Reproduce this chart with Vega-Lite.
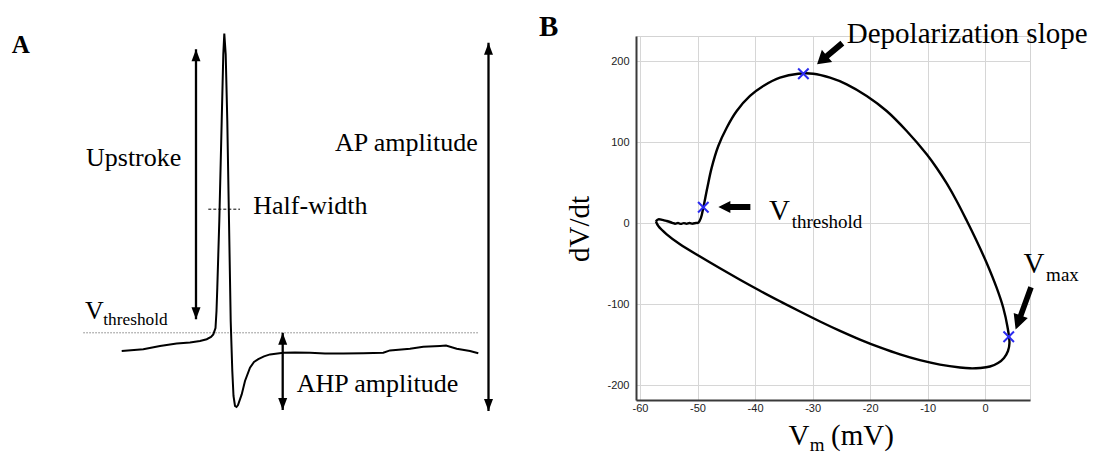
{
  "$schema": "https://vega.github.io/schema/vega-lite/v6.json",
  "padding": {"left": 0, "top": 12, "right": 0, "bottom": 0},
  "background": "white",
  "spacing": 116,
  "bounds": "flush",
  "config": {"view": {"stroke": null}},
  "datasets": {
    "traceA": [
      {"i": 0, "t": 12.17, "v": -48.75}, {"i": 1, "t": 14.33, "v": -48.33}, {"i": 2, "t": 16.0, "v": -47.5},
      {"i": 3, "t": 17.67, "v": -46.9}, {"i": 4, "t": 19.0, "v": -46.6}, {"i": 5, "t": 20.0, "v": -46.25},
      {"i": 6, "t": 20.67, "v": -45.8}, {"i": 7, "t": 21.1, "v": -45.25}, {"i": 8, "t": 21.33, "v": -44.6},
      {"i": 9, "t": 21.55, "v": -43.0}, {"i": 10, "t": 21.65, "v": -38.75}, {"i": 11, "t": 21.73, "v": -32.9},
      {"i": 12, "t": 21.93, "v": -16.25}, {"i": 13, "t": 22.17, "v": 8.75}, {"i": 14, "t": 22.33, "v": 25.4},
      {"i": 15, "t": 22.43, "v": 30.6}, {"i": 16, "t": 22.57, "v": 25.4}, {"i": 17, "t": 22.73, "v": 8.75},
      {"i": 18, "t": 22.9, "v": -16.25}, {"i": 19, "t": 23.07, "v": -41.25}, {"i": 20, "t": 23.23, "v": -53.75},
      {"i": 21, "t": 23.35, "v": -60.0}, {"i": 22, "t": 23.5, "v": -62.5}, {"i": 23, "t": 23.65, "v": -62.75},
      {"i": 24, "t": 23.8, "v": -62.25}, {"i": 25, "t": 24.17, "v": -59.6}, {"i": 26, "t": 24.5, "v": -56.25},
      {"i": 27, "t": 25.0, "v": -52.9}, {"i": 28, "t": 25.4, "v": -51.5}, {"i": 29, "t": 25.83, "v": -50.8},
      {"i": 30, "t": 26.4, "v": -50.1}, {"i": 31, "t": 27.0, "v": -49.6}, {"i": 32, "t": 28.33, "v": -49.2},
      {"i": 33, "t": 29.5, "v": -49.1}, {"i": 34, "t": 31.0, "v": -49.2}, {"i": 35, "t": 32.5, "v": -49.4},
      {"i": 36, "t": 34.33, "v": -49.4}, {"i": 37, "t": 36.33, "v": -49.3}, {"i": 38, "t": 38.33, "v": -49.2},
      {"i": 39, "t": 39.0, "v": -48.6}, {"i": 40, "t": 41.0, "v": -48.2}, {"i": 41, "t": 42.33, "v": -47.7},
      {"i": 42, "t": 44.0, "v": -47.5}, {"i": 43, "t": 44.6, "v": -47.4}, {"i": 44, "t": 45.67, "v": -48.2},
      {"i": 45, "t": 47.0, "v": -48.75}, {"i": 46, "t": 47.83, "v": -49.3}
    ],
    "arrowsA": [
      {"name": "Upstroke", "t": 19.6, "top": 26.7, "bottom": -40.8},
      {"name": "AP amplitude", "t": 48.85, "top": 28.3, "bottom": -63.75},
      {"name": "AHP amplitude", "t": 28.27, "top": -44.2, "bottom": -63.5}
    ],
    "labelsA": [
      {"t": 8.6, "v": -2.5, "text": "Upstroke"},
      {"t": 25.33, "v": -14.6, "text": "Half-width"},
      {"t": 33.5, "v": 1.25, "text": "AP amplitude"},
      {"t": 29.67, "v": -58.9, "text": "AHP amplitude"},
      {"t": 8.5, "v": -40.8, "text": "V"}
    ],
    "subA": [
      {"t": 10.33, "v": -42.25, "text": "threshold"}
    ],
    "loopB": [
      {"i": 0, "V": -57.25, "dVdt": 2.5}, {"i": 1, "V": -56.82, "dVdt": 4.9}, {"i": 2, "V": -56.1, "dVdt": 4.2},
      {"i": 3, "V": -55.36, "dVdt": 2.8}, {"i": 4, "V": -54.4, "dVdt": 0.6}, {"i": 5, "V": -53.9, "dVdt": -0.6},
      {"i": 6, "V": -53.4, "dVdt": 0.3}, {"i": 7, "V": -52.9, "dVdt": -0.8}, {"i": 8, "V": -52.4, "dVdt": 0.2},
      {"i": 9, "V": -51.9, "dVdt": -0.7}, {"i": 10, "V": -51.4, "dVdt": 0.3}, {"i": 11, "V": -50.9, "dVdt": -0.5},
      {"i": 12, "V": -50.3, "dVdt": 0.4}, {"i": 13, "V": -49.87, "dVdt": 0.7}, {"i": 14, "V": -49.4, "dVdt": 6.9},
      {"i": 15, "V": -49.0, "dVdt": 19.2}, {"i": 16, "V": -48.3, "dVdt": 43.9}, {"i": 17, "V": -47.54, "dVdt": 68.6},
      {"i": 18, "V": -46.39, "dVdt": 95.3}, {"i": 19, "V": -44.93, "dVdt": 117.9}, {"i": 20, "V": -43.19, "dVdt": 138.5},
      {"i": 21, "V": -40.88, "dVdt": 157.0}, {"i": 22, "V": -38.57, "dVdt": 169.3}, {"i": 23, "V": -35.67, "dVdt": 179.6},
      {"i": 24, "V": -32.48, "dVdt": 184.5}, {"i": 25, "V": -29.88, "dVdt": 184.5}, {"i": 26, "V": -26.97, "dVdt": 179.6},
      {"i": 27, "V": -24.07, "dVdt": 171.4}, {"i": 28, "V": -20.59, "dVdt": 157.0}, {"i": 29, "V": -17.12, "dVdt": 138.5},
      {"i": 30, "V": -13.64, "dVdt": 113.8}, {"i": 31, "V": -10.16, "dVdt": 85.1}, {"i": 32, "V": -8.42, "dVdt": 68.2},
      {"i": 33, "V": -6.68, "dVdt": 49.1}, {"i": 34, "V": -4.95, "dVdt": 27.5}, {"i": 35, "V": -3.21, "dVdt": 3.4},
      {"i": 36, "V": -1.47, "dVdt": -21.9}, {"i": 37, "V": 0.27, "dVdt": -49.0}, {"i": 38, "V": 2.01, "dVdt": -79.8},
      {"i": 39, "V": 3.16, "dVdt": -104.5}, {"i": 40, "V": 3.89, "dVdt": -127.9}, {"i": 41, "V": 4.23, "dVdt": -147.7},
      {"i": 42, "V": 3.97, "dVdt": -157.6}, {"i": 43, "V": 3.28, "dVdt": -166.1}, {"i": 44, "V": 2.24, "dVdt": -172.4},
      {"i": 45, "V": 0.84, "dVdt": -176.7}, {"i": 46, "V": -0.9, "dVdt": -178.5}, {"i": 47, "V": -2.63, "dVdt": -178.9},
      {"i": 48, "V": -4.37, "dVdt": -177.9}, {"i": 49, "V": -7.85, "dVdt": -174.3}, {"i": 50, "V": -11.33, "dVdt": -168.9},
      {"i": 51, "V": -14.8, "dVdt": -161.8}, {"i": 52, "V": -18.28, "dVdt": -153.2}, {"i": 53, "V": -21.76, "dVdt": -143.5},
      {"i": 54, "V": -25.23, "dVdt": -132.8}, {"i": 55, "V": -28.71, "dVdt": -121.2}, {"i": 56, "V": -32.19, "dVdt": -108.9},
      {"i": 57, "V": -35.67, "dVdt": -96.2}, {"i": 58, "V": -39.14, "dVdt": -83.2}, {"i": 59, "V": -42.62, "dVdt": -69.6},
      {"i": 60, "V": -46.1, "dVdt": -55.5}, {"i": 61, "V": -49.57, "dVdt": -41.0}, {"i": 62, "V": -53.05, "dVdt": -25.9},
      {"i": 63, "V": -55.36, "dVdt": -13.6}, {"i": 64, "V": -56.82, "dVdt": -3.4}, {"i": 65, "V": -57.25, "dVdt": 2.5}
    ],
    "markersB": [
      {"V": -49.0, "dVdt": 19.7},
      {"V": -31.6, "dVdt": 184.5},
      {"V": 4.1, "dVdt": -139.9}
    ],
    "labelsB": [
      {"V": -24.05, "dVdt": 222.3, "text": "Depolarization slope"},
      {"V": -37.57, "dVdt": 4.3, "text": "V"},
      {"V": 6.66, "dVdt": -61.3, "text": "V"},
      {"V": -34.2, "dVdt": -273.1, "text": "V"},
      {"V": -26.8, "dVdt": -273.1, "text": "(mV)"}
    ],
    "subB": [
      {"V": -33.64, "dVdt": -5.8, "text": "threshold"},
      {"V": 10.6, "dVdt": -70.7, "text": "max"},
      {"V": -30.5, "dVdt": -281, "text": "m"}
    ]
  },
  "hconcat": [
    {
      "width": 520,
      "height": 364,
      "layer": [
        {
          "data": {"values": [{"t": 1.17, "v": 25.8, "text": "A"}]},
          "mark": {"type": "text", "font": "Liberation Serif", "fontWeight": "bold", "fontSize": 25, "align": "left", "baseline": "alphabetic", "color": "black"},
          "encoding": {
            "x": {"field": "t", "type": "quantitative", "scale": {"domain": [0, 52], "nice": false, "zero": false}, "axis": null},
            "y": {"field": "v", "type": "quantitative", "scale": {"domain": [-61, 30], "nice": false, "zero": false}, "axis": null},
            "text": {"field": "text"}
          }
        },
        {
          "data": {"values": [{"t": 8.33, "t2": 47.9, "v": -44.2}]},
          "mark": {"type": "rule", "color": "#808080", "strokeWidth": 1, "strokeDash": [1.5, 1.5]},
          "encoding": {
            "x": {"field": "t", "type": "quantitative", "axis": null},
            "x2": {"field": "t2"},
            "y": {"field": "v", "type": "quantitative", "axis": null}
          }
        },
        {
          "data": {"values": [{"t": 20.83, "t2": 24.0, "v": -13.3}]},
          "mark": {"type": "rule", "color": "black", "strokeWidth": 1, "strokeDash": [3, 2]},
          "encoding": {
            "x": {"field": "t", "type": "quantitative", "axis": null},
            "x2": {"field": "t2"},
            "y": {"field": "v", "type": "quantitative", "axis": null}
          }
        },
        {
          "data": {"name": "traceA"},
          "mark": {"type": "line", "color": "black", "strokeWidth": 2},
          "encoding": {
            "x": {"field": "t", "type": "quantitative", "axis": null},
            "y": {"field": "v", "type": "quantitative", "axis": null},
            "order": {"field": "i"}
          }
        },
        {
          "data": {"name": "arrowsA"},
          "mark": {"type": "rule", "color": "black", "strokeWidth": 2.3},
          "encoding": {
            "x": {"field": "t", "type": "quantitative", "axis": null},
            "y": {"field": "top", "type": "quantitative", "axis": null},
            "y2": {"field": "bottom"}
          }
        },
        {
          "data": {"name": "arrowsA"},
          "mark": {"type": "point", "shape": "M0,0L4.5,12L-4.5,12Z", "size": 4, "filled": true, "opacity": 1, "color": "black"},
          "encoding": {
            "x": {"field": "t", "type": "quantitative", "axis": null},
            "y": {"field": "top", "type": "quantitative", "axis": null}
          }
        },
        {
          "data": {"name": "arrowsA"},
          "mark": {"type": "point", "shape": "M0,0L4.5,-12L-4.5,-12Z", "size": 4, "filled": true, "opacity": 1, "color": "black"},
          "encoding": {
            "x": {"field": "t", "type": "quantitative", "axis": null},
            "y": {"field": "bottom", "type": "quantitative", "axis": null}
          }
        },
        {
          "data": {"name": "labelsA"},
          "mark": {"type": "text", "font": "Liberation Serif", "fontSize": 26, "align": "left", "baseline": "alphabetic", "color": "black"},
          "encoding": {
            "x": {"field": "t", "type": "quantitative", "axis": null},
            "y": {"field": "v", "type": "quantitative", "axis": null},
            "text": {"field": "text"}
          }
        },
        {
          "data": {"name": "subA"},
          "mark": {"type": "text", "font": "Liberation Serif", "fontSize": 17.3, "align": "left", "baseline": "alphabetic", "color": "black"},
          "encoding": {
            "x": {"field": "t", "type": "quantitative", "axis": null},
            "y": {"field": "v", "type": "quantitative", "axis": null},
            "text": {"field": "text"}
          }
        }
      ]
    },
    {
      "width": 394,
      "height": 364,
      "view": {"stroke": "#d3d3d3", "strokeWidth": 1},
      "encoding": {
        "x": {
          "field": "V", "type": "quantitative",
          "scale": {"domain": [-60.7, 7.8], "nice": false, "zero": false},
          "axis": {
            "values": [-60, -50, -40, -30, -20, -10, 0],
            "labelExpr": "'' + datum.value",
            "title": null,
            "labelFont": "Liberation Sans", "labelFontSize": 11, "labelColor": "#222222",
            "labelPadding": 2, "ticks": false, "tickSize": 0,
            "domainColor": "#3a3a3a", "domainWidth": 2,
            "gridColor": "#d6d6d6", "gridWidth": 1
          }
        },
        "y": {
          "field": "dVdt", "type": "quantitative",
          "scale": {"domain": [-218, 231], "nice": false, "zero": false},
          "axis": {
            "values": [-200, -100, 0, 100, 200],
            "labelExpr": "'' + datum.value",
            "title": "dV/dt",
            "titleFont": "Liberation Serif", "titleFontSize": 29, "titleFontWeight": "normal", "titleColor": "black",
            "titlePadding": 12, "titleY": 192.5,
            "labelFont": "Liberation Sans", "labelFontSize": 11, "labelColor": "#222222",
            "labelPadding": 7, "ticks": false, "tickSize": 0,
            "domainColor": "#3a3a3a", "domainWidth": 2,
            "gridColor": "#d6d6d6", "gridWidth": 1
          }
        }
      },
      "layer": [
        {
          "data": {"name": "loopB"},
          "mark": {"type": "line", "color": "black", "strokeWidth": 2.4, "interpolate": "catmull-rom"},
          "encoding": {"order": {"field": "i"}}
        },
        {
          "data": {"name": "markersB"},
          "mark": {"type": "point", "shape": "M-1,-1L1,1M-1,1L1,-1", "size": 110, "filled": false, "strokeWidth": 2, "opacity": 1, "color": "#2b2bef"},
          "encoding": {}
        },
        {
          "data": {"values": [{"V": -46.38, "dVdt": 20.1}]},
          "mark": {"type": "point", "shape": "M0,0L6,12L3,12L3,32L-3,32L-3,12L-6,12Z", "size": 4, "angle": 270, "filled": true, "opacity": 1, "color": "black"},
          "encoding": {}
        },
        {
          "data": {"values": [{"V": -29.22, "dVdt": 196.1}]},
          "mark": {"type": "point", "shape": "M0,0L8,13L3,13L3,33L-3,33L-3,13L-8,13Z", "size": 4, "angle": 230, "filled": true, "opacity": 1, "color": "black"},
          "encoding": {}
        },
        {
          "data": {"values": [{"V": 5.3, "dVdt": -131.1}]},
          "mark": {"type": "point", "shape": "M0,0L7.5,15L2.8,15L2.8,45L-2.8,45L-2.8,15L-7.5,15Z", "size": 4, "angle": 200, "filled": true, "opacity": 1, "color": "black"},
          "encoding": {}
        },
        {
          "data": {"values": [{"V": -77.57, "dVdt": 230.6, "text": "B"}]},
          "mark": {"type": "text", "font": "Liberation Serif", "fontWeight": "bold", "fontSize": 29, "align": "left", "baseline": "alphabetic", "color": "black"},
          "encoding": {"text": {"field": "text"}}
        },
        {
          "data": {"name": "labelsB"},
          "mark": {"type": "text", "font": "Liberation Serif", "fontSize": 29, "align": "left", "baseline": "alphabetic", "color": "black"},
          "encoding": {"text": {"field": "text"}}
        },
        {
          "data": {"name": "subB"},
          "mark": {"type": "text", "font": "Liberation Serif", "fontSize": 19, "align": "left", "baseline": "alphabetic", "color": "black"},
          "encoding": {"text": {"field": "text"}}
        }
      ]
    }
  ]
}
